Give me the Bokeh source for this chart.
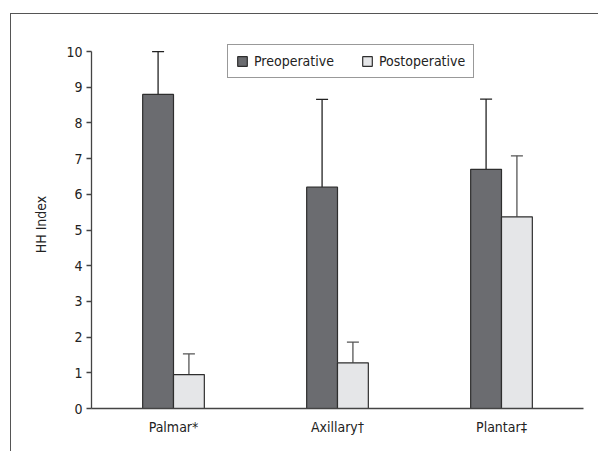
from bokeh.plotting import figure
from bokeh.layouts import column
from bokeh.models import (FactorRange, Range1d, Whisker, TeeHead, ColumnDataSource,
                          Legend, LegendItem, FixedTicker)
from bokeh.transform import dodge
from bokeh.embed import file_html
from bokeh.resources import INLINE

categories = ["Palmar*", "Axillary\u2020", "Plantar\u2021"]
pre_values = [8.8, 6.2, 6.7]
pre_upper = [10.0, 8.66, 8.67]
post_values = [0.95, 1.28, 5.37]
post_upper = [1.53, 1.86, 7.08]
series_names = ["Preoperative", "Postoperative"]
y_ticks = list(range(0, 11))
y_label = "HH Index"

FONT = "'Liberation Sans Narrow', 'DejaVu Sans Condensed', sans-serif"
FS = "14px"
DARK = "#6b6c70"
LIGHT = "#e5e6e8"
EDGE = "#2e2e2e"

src = ColumnDataSource(dict(cat=categories, pre=pre_values, pre_up=pre_upper,
                            post=post_values, post_up=post_upper))

p = figure(x_range=FactorRange(*categories, range_padding=0), y_range=Range1d(0, 10.31),
           width=582, height=432, output_backend="svg", toolbar_location=None,
           min_border_left=80, min_border_right=10, min_border_top=26, min_border_bottom=38)
p.outline_line_color = None
p.grid.grid_line_color = None
p.background_fill_color = "white"
p.border_fill_color = "white"

off = 0.094
w = 0.188
r_pre = p.vbar(x=dodge("cat", -off, range=p.x_range), top="pre", width=w, source=src,
               fill_color=DARK, line_color=EDGE, line_width=1.2)
r_post = p.vbar(x=dodge("cat", off, range=p.x_range), top="post", width=w, source=src,
                fill_color=LIGHT, line_color=EDGE, line_width=1.2)

wk_pre = Whisker(base=dodge("cat", -off, range=p.x_range), lower="pre", upper="pre_up", source=src,
                 line_color="#222222", line_width=1.3,
                 upper_head=TeeHead(size=12, line_color="#222222", line_width=1.3), lower_head=None)
wk_post = Whisker(base=dodge("cat", off, range=p.x_range), lower="post", upper="post_up", source=src,
                  line_color="#555555", line_width=1.3,
                  upper_head=TeeHead(size=12, line_color="#555555", line_width=1.3), lower_head=None)
p.add_layout(wk_pre)
p.add_layout(wk_post)

# axes
p.yaxis.ticker = FixedTicker(ticks=y_ticks)
p.yaxis.bounds = (0, 10)
p.yaxis.axis_label = y_label
p.yaxis.axis_label_text_font = FONT
p.yaxis.axis_label_text_font_size = FS
p.yaxis.axis_label_text_font_style = "normal"
p.yaxis.axis_label_text_color = "#222222"
p.yaxis.axis_label_standoff = 14
p.yaxis.minor_tick_line_color = None
p.yaxis.major_tick_in = 0
p.yaxis.major_tick_out = 5
p.yaxis.major_label_standoff = 4
for ax in (p.xaxis, p.yaxis):
    ax.axis_line_color = "#444444"
    ax.axis_line_width = 1.3
    ax.major_tick_line_color = "#444444"
    ax.major_tick_line_width = 1.3
    ax.major_label_text_font = FONT
    ax.major_label_text_font_size = FS
    ax.major_label_text_color = "#222222"
p.xaxis.major_tick_line_color = None
p.xaxis.minor_tick_line_color = None
p.xaxis.major_label_standoff = 4

legend = Legend(items=[LegendItem(label=series_names[0], renderers=[r_pre]),
                       LegendItem(label=series_names[1], renderers=[r_post])],
                orientation="horizontal", location=(136, 330),
                glyph_width=12, glyph_height=12, label_standoff=6, spacing=27,
                padding=8, margin=0,
                label_text_font=FONT, label_text_font_size=FS, label_text_color="#222222",
                border_line_color="#333333", border_line_width=1.3,
                background_fill_color="white", background_fill_alpha=1)
p.add_layout(legend)

layout = column(p, margin=(13, 0, 0, 10), width=588, height=438,
                styles={"border-left": "1px solid #555555", "border-top": "1px solid #555555"})

open("out.html", "w").write(file_html(layout, INLINE))
